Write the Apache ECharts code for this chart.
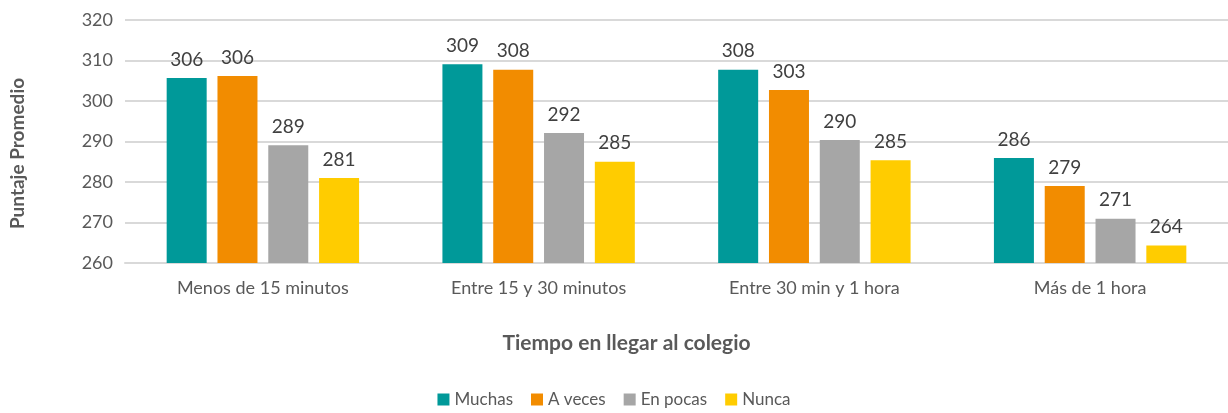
<!DOCTYPE html>
<html>
<head>
<meta charset="utf-8">
<script src="https://cdn.jsdelivr.net/npm/echarts@6/dist/echarts.min.js"></script>
<style>
  html, body { margin: 0; padding: 0; background: #fff; }
  #chart { width: 1228px; height: 413px; }
</style>
</head>
<body>
<div id="chart"></div>
<script>
// categorias del eje x
const categories = ['Menos de 15 minutos', 'Entre 15 y 30 minutos', 'Entre 30 min y 1 hora', 'Más de 1 hora'];
const seriesNames = ['Muchas', 'A veces', 'En pocas', 'Nunca'];
const muchas = [305.7, 309.1, 307.7, 285.9];
const aVeces = [306.2, 307.7, 302.7, 279.0];
const enPocas = [289.1, 292.1, 290.4, 270.9];
const nunca = [281.0, 285.0, 285.4, 264.3];
const colors = ['#009999', '#f28c00', '#a6a6a6', '#ffcc00'];

const textColor = '#595959';
const font = 'Lato';

let myChart = echarts.init(document.getElementById('chart'));

function bar(name, data, color) {
  return {
    name: name,
    type: 'bar',
    data: data,
    barWidth: 40,
    barGap: '27%',
    itemStyle: { color: color },
    label: {
      show: true,
      position: 'top',
      distance: 9,
      color: '#404040',
      fontSize: 19,
      fontFamily: font,
      formatter: (p) => Math.round(p.value)
    }
  };
}

myChart.setOption({
  animation: false,
  color: colors,
  textStyle: { fontFamily: font },
  grid: { left: 122, width: 1112, top: 20, height: 243 },
  legend: {
    data: seriesNames,
    bottom: 0,
    left: 'center',
    itemWidth: 12,
    itemHeight: 12,
    itemGap: 18,
    icon: 'rect',
    textStyle: { color: textColor, fontSize: 17, fontFamily: font }
  },
  xAxis: {
    type: 'category',
    data: categories,
    name: 'Tiempo en llegar al colegio',
    nameLocation: 'middle',
    nameGap: 70,
    nameTextStyle: { color: textColor, fontSize: 21, fontWeight: 'bold', fontFamily: font, padding: [0, 100, 0, 0] },
    axisLine: { lineStyle: { color: '#d9d9d9', width: 2 } },
    axisTick: { show: false },
    axisLabel: { color: textColor, fontSize: 18, margin: 16, fontFamily: font }
  },
  yAxis: {
    type: 'value',
    min: 260,
    max: 320,
    interval: 10,
    name: 'Puntaje Promedio',
    nameLocation: 'middle',
    nameGap: 98,
    nameTextStyle: { color: textColor, fontSize: 19, fontWeight: 'bold', fontFamily: font, padding: [0, 24, 0, 0] },
    axisLine: { show: false },
    axisTick: { show: false },
    axisLabel: { color: textColor, fontSize: 18, margin: 12, fontFamily: font },
    splitLine: { lineStyle: { color: '#d9d9d9', width: 2 } }
  },
  series: [
    bar(seriesNames[0], muchas, colors[0]),
    bar(seriesNames[1], aVeces, colors[1]),
    bar(seriesNames[2], enPocas, colors[2]),
    bar(seriesNames[3], nunca, colors[3])
  ]
});
</script>
</body>
</html>
